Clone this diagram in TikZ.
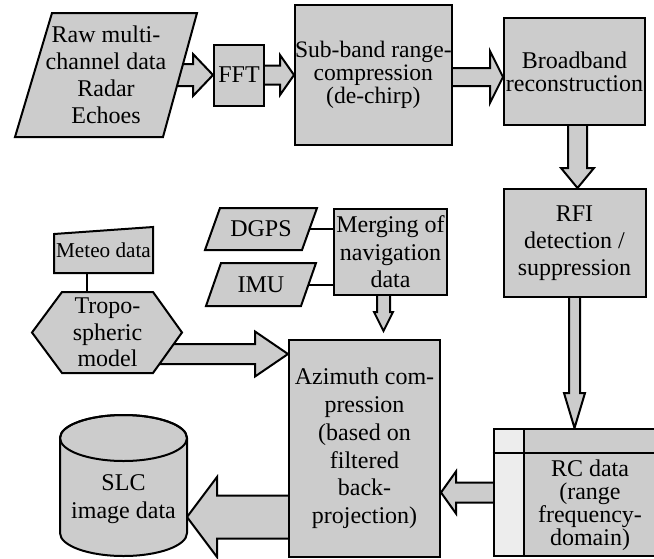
\documentclass[tikz,border=0pt]{standalone}
\usepackage{fontspec}
\setmainfont{Liberation Serif}
\usepackage{tikz}
\usetikzlibrary{positioning, calc, backgrounds}
\pgfdeclarelayer{arrows}
\pgfdeclarelayer{outlines}
\pgfsetlayers{arrows,outlines,main}
\definecolor{colorhalftone}{gray}{0.8}
\definecolor{colorlight}{gray}{0.93}
\tikzstyle{box}=[draw, fill=colorhalftone, line width=1pt, align=center, inner sep=0.5pt]
\tikzstyle{plain}=[align=center, inner sep=0pt, outer sep=0pt]
\tikzstyle{outline}=[draw, fill=colorhalftone, line width=1pt, line join=miter]
\tikzstyle{fat}=[draw, fill=colorhalftone, line width=1pt, line join=miter]
\tikzstyle{wire}=[line width=1pt]
\newcommand{\fatarrow}[5]{%
  \coordinate (fa-base) at ($(#2)!#5!(#1)$);
  \filldraw[fat] ($(#1)!#3!90:(#2)$) -- ($(fa-base)!#3!90:(#2)$) -- ($(fa-base)!#4!90:(#2)$) -- (#2)
    -- ($(fa-base)!#4!-90:(#2)$) -- ($(fa-base)!#3!-90:(#2)$) -- ($(#1)!#3!-90:(#2)$) -- cycle;
}

\begin{document}
\begin{tikzpicture}[x=0.5pt, y=-0.5pt, font=\fontsize{12}{13.5}\selectfont]
\useasboundingbox (0,0) rectangle (654,558);

% range processing chain
\node[plain, minimum width=91pt, minimum height=62pt] (raw) at (106,75) {Raw multi-\\channel data\\Radar\\Echoes};
\node[box, right=8pt of raw, minimum width=25pt, minimum height=30.5pt] (fft) {FFT};
\node[box, right=14.5pt of fft, minimum width=78pt, minimum height=70pt, inner sep=0pt, font=\fontsize{11.8}{11.5}\selectfont] (sub) {Sub-band range-\\compression\\(de-chirp)};
\node[box, minimum width=70.5pt, minimum height=53.5pt, font=\fontsize{12}{11.5}\selectfont] (bb) at (574.5,71.5) {Broadband\\reconstruction};
\node[box, below=31pt of bb, minimum width=71pt, minimum height=54pt] (rfi) {RFI\\detection /\\suppression};
\node[box, below=65pt of rfi, minimum width=81pt, minimum height=63.5pt] (rc) {};
\fill[colorlight] ([xshift=1pt,yshift=-1pt]rc.north west) rectangle ([xshift=15.5pt,yshift=1pt]rc.south west);
\draw[wire] ([xshift=15.5pt]rc.north west) -- ([xshift=15.5pt]rc.south west);
\draw[wire] ([yshift=-12.5pt]rc.north west) -- ([yshift=-12.5pt]rc.north east);
\node[plain, font=\fontsize{12}{11.5}\selectfont] (rctext) at ($([xshift=15.5pt,yshift=-12.5pt]rc.north west)!0.5!(rc.south east)$) {RC data\\(range\\frequency-\\domain)};

% navigation and atmosphere
\node[plain, minimum width=56pt, minimum height=21pt] (dgps) at (261,229) {DGPS};
\node[plain, below=6.5pt of dgps, minimum width=55pt, minimum height=21.5pt] (imu) {IMU};
\node[box, minimum width=56.5pt, minimum height=43pt, font=\fontsize{12}{13.75}\selectfont] (merge) at (390.5,252) {Merging of\\navigation\\data};
\node[plain, minimum width=49.5pt, minimum height=23pt, font=\fontsize{10.6}{12}\selectfont] (meteo) at (103.5,250) {Meteo data};
\node[plain, below=9.5pt of meteo, xshift=2pt, minimum width=45.5pt, minimum height=40.5pt, font=\fontsize{12}{13.25}\selectfont] (tropo) {Tropo-\\spheric\\model};

% azimuth processing
\node[box, minimum width=75.5pt, minimum height=108.5pt, font=\fontsize{12}{13.9}\selectfont] (az) at (364.5,448.5) {Azimuth com-\\pression\\(based on\\filtered\\back-\\projection)};
\node[plain, minimum width=63.5pt, minimum height=70.5pt] (slc) at (123.5,485.5) {};
\node[plain, font=\fontsize{12}{14}\selectfont] (slctext) at ([yshift=-6.75pt]slc.center) {SLC\\image data};

\coordinate (mt) at ([xshift=-8.25pt]meteo.south);
\draw[wire] (mt) -- (mt |- tropo.north);

\begin{pgfonlayer}{outlines}
\filldraw[outline] ([xshift=18.5pt]raw.north west) -- (raw.north east) -- ([xshift=-17pt]raw.south east) -- (raw.south west) -- cycle;
\filldraw[outline] ([xshift=7.5pt]dgps.north west) -- (dgps.north east) -- ([xshift=-7.5pt]dgps.south east) -- (dgps.south west) -- cycle;
\filldraw[outline] ([xshift=7.5pt]imu.north west) -- (imu.north east) -- ([xshift=-7.5pt]imu.south east) -- (imu.south west) -- cycle;
\filldraw[outline] (meteo.south west) -- (meteo.south east) -- (meteo.north east) -- ([yshift=-3.5pt]meteo.north west) -- cycle;
\filldraw[outline] (tropo.north west) -- (tropo.north east) -- ([xshift=14.5pt]tropo.east) -- (tropo.south east) -- (tropo.south west) -- ([xshift=-15pt]tropo.west) -- cycle;
\filldraw[outline] ([yshift=-11.5pt]slc.north west) -- ([yshift=11.5pt]slc.south west) arc[start angle=180, end angle=360, x radius=31.75pt, y radius=11.5pt] -- ([yshift=-11.5pt]slc.north east) arc[start angle=0, end angle=180, x radius=31.75pt, y radius=11.5pt] -- cycle;
\draw[outline, fill=none] ([yshift=-11.5pt]slc.north) ellipse[x radius=31.75pt, y radius=11.5pt];
\end{pgfonlayer}

\begin{pgfonlayer}{arrows}
\draw[wire] (dgps.center) -- (dgps.center -| merge.west);
\draw[wire] (imu.center) -- (imu.center -| merge.west);
\coordinate (t1) at (raw.center -| fft.west);
\fatarrow{raw.center}{t1}{5.5pt}{10.5pt}{10pt}
\coordinate (t2) at (fft.center -| sub.west);
\fatarrow{fft.center}{t2}{4.75pt}{10pt}{7pt}
\coordinate (ss) at ([yshift=-1pt]sub.center);
\coordinate (t3) at (ss -| bb.west);
\fatarrow{ss}{t3}{4.5pt}{13pt}{6.5pt}
\coordinate (bs) at ([xshift=1.5pt]bb.center);
\coordinate (t4) at (bs |- rfi.north);
\fatarrow{bs}{t4}{4.75pt}{8.25pt}{10pt}
\coordinate (t5) at (rfi.center |- rc.north);
\fatarrow{rfi.center}{t5}{2.75pt}{5.25pt}{17.5pt}
\coordinate (t6) at (rc.center -| az.east);
\fatarrow{rc.center}{t6}{5pt}{10.5pt}{7.5pt}
\coordinate (ms) at ([xshift=-3.5pt]merge.center);
\coordinate (t7) at ($(ms |- az.north)+(0,4pt)$);
\fatarrow{ms}{t7}{3.25pt}{4.75pt}{9.5pt}
\coordinate (ts) at ([yshift=-10.75pt]tropo.center);
\coordinate (t8) at (ts -| az.west);
\fatarrow{ts}{t8}{5pt}{11.25pt}{16.5pt}
\coordinate (azs) at ([yshift=20.5pt]az.south);
\coordinate (t9) at (azs -| slc.east);
\fatarrow{azs}{t9}{10.75pt}{20pt}{15pt}
\end{pgfonlayer}

\end{tikzpicture}
\end{document}
